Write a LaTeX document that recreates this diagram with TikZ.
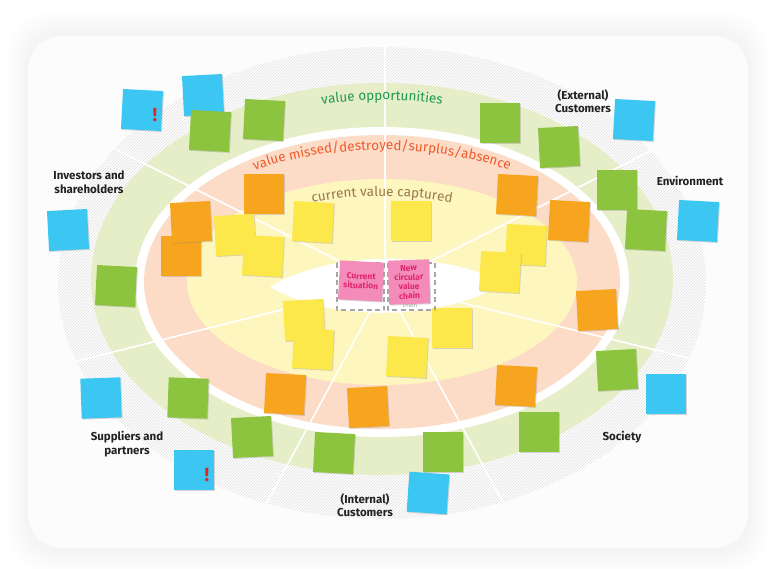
\documentclass[tikz,border=0pt]{standalone}
\usepackage{fontspec}
\setmainfont{Fira Sans}
\usetikzlibrary{patterns,shadows,decorations.text}
\definecolor{notegreen}{HTML}{8CC43F}
\definecolor{noteblue}{HTML}{3CC6F2}
\definecolor{noteorange}{HTML}{F7A51E}
\definecolor{noteyellow}{HTML}{FDE84B}
\definecolor{notepink}{HTML}{F38CBA}
\definecolor{pinktext}{HTML}{E0266E}
\definecolor{ringgreen}{HTML}{E6EEC8}
\definecolor{ringpeach}{HTML}{FCDCC7}
\definecolor{ringyellow}{HTML}{FDF6BE}
\definecolor{oppgreen}{HTML}{1E9A4E}
\definecolor{missred}{HTML}{F05A2B}
\definecolor{captbrown}{HTML}{9A774C}
\definecolor{bangred}{HTML}{E52421}
\definecolor{labelgray}{HTML}{222222}
\newcommand{\ringfont}{\fontsize{13.5}{13.5}\selectfont}
\begin{document}
\begin{tikzpicture}[x=1pt,y=-1pt,line join=round,line cap=round,
	note/.style={rectangle,minimum size=40pt,inner sep=0pt,drop shadow={shadow xshift=.9pt,shadow yshift=-.9pt,opacity=.3}},
	bnote/.style={note,fill=noteblue},
	gnote/.style={note,fill=notegreen},
	onote/.style={note,fill=noteorange},
	ynote/.style={note,fill=noteyellow},
	pnote/.style={note,fill=notepink,text=pinktext,font=\bfseries\fontsize{8.5}{9.3}\selectfont,align=center},
	bang/.style={text=bangred,font=\bfseries\fontsize{19}{19}\selectfont,inner sep=0pt},
	stake/.style={text=labelgray,font=\bfseries\fontsize{11.5}{13.5}\selectfont,align=center,inner sep=0pt},
	dashbox/.style={draw=black!35,line width=1.2pt,dash pattern=on 5pt off 3.5pt,line cap=butt},
	ringlabel/.style={decorate,decoration={text along path,text align=center,text color=#1}}]
	\def\cx{382} \def\cy{283}
	\useasboundingbox (0,0) rectangle (768,568);
	% card and its soft shadow
	\foreach \s in {0,2,...,22} \fill[black,opacity=.004,rounded corners=40pt] ({28-\s},{34-\s}) rectangle ({748+\s},{550+\s});
	\fill[black!1,rounded corners=34pt] (28,36) rectangle (748,548);
	% rings
	\fill[white] (\cx,\cy) ellipse[x radius=324,y radius=236];
	\fill[pattern=north east lines,pattern color=black!12] (\cx,\cy) ellipse[x radius=324,y radius=236];
	\fill[ringgreen] (\cx,279) ellipse[x radius=291,y radius=196];
	\fill[white] (\cx,282) ellipse[x radius=247,y radius=155];
	\fill[ringpeach] (\cx,282) ellipse[x radius=238,y radius=147];
	\fill[ringyellow] (\cx,282) ellipse[x radius=195,y radius=103];
	\begin{scope}
		\clip (\cx,\cy) ellipse[x radius=324,y radius=236];
		\foreach \dx/\dy in {0/-1,-2/-1,2/-1,-4/1,4.1/1,-.54/1,.54/1}
		\draw[white,line width=1.6pt] (385,284) -- ++(\dx*300,\dy*300);
	\end{scope}
	\fill[white] (270,287) .. controls (330,250) and (440,250) .. (505,283) .. controls (440,322) and (330,322) .. cycle;
	% ring titles
	\path[ringlabel=oppgreen,decoration={text={|\ringfont|value opportunities}}]
	(\cx,\cy) ++(235:272 and 183) arc[start angle=235,end angle=305,x radius=272,y radius=183];
	\path[ringlabel=missred,decoration={text={|\ringfont|value missed/destroyed/surplus/absence}}]
	(\cx,\cy) ++(205:240 and 133) arc[start angle=205,end angle=335,x radius=240,y radius=133];
	\path[ringlabel=captbrown,decoration={text={|\ringfont|current value captured}}]
	(\cx,\cy) ++(225:180 and 87) arc[start angle=225,end angle=315,x radius=180,y radius=87];
	% stakeholders
	\node[stake] (investors) at (89,182) {Investors and\\shareholders};
	\node[stake] (extcust) at (583,101) {(External)\\Customers};
	\node[stake] (environment) at (690,181) {Environment};
	\node[stake] (society) at (622,437) {Society};
	\node[stake] (suppliers) at (127,444) {Suppliers and\\partners};
	\node[stake] (intcust) at (365,505) {(Internal)\\Customers};
	% sticky notes
	\foreach \x/\y/\r [count=\i] in {142/110/-3,203/95/3,634/120/-3,698/221/-3,68/230/3,666/394/0,101/398/2,194/470/0,428/493/-4}
	\node[bnote,rotate=\r] (b\i) at (\x,\y) {};
	\node[bang] (bang1) at ([shift={(13,5)}]b1.center) {!};
	\node[bang] (bang2) at ([shift={(13,5)}]b8.center) {!};
	\foreach \x/\y/\r [count=\i] in {210/131/-3,264/120/-3,500/123/0,559/147/3,617/190/0,646/230/-3,116/286/-3,617/370/3,188/398/-2,252/437/3,334/453/-3,443/452/0,539/432/0}
	\node[gnote,rotate=\r] (g\i) at (\x,\y) {};
	\foreach \x/\y/\r [count=\i] in {264/194/0,181/256/0,191/222/3,517/195/-3,569/221/-3,597/310/3,285/394/-3,368/407/3,516/386/-3}
	\node[onote,rotate=\r] (o\i) at (\x,\y) {};
	\foreach \x/\y/\r [count=\i] in {313/222/-3,411/221/0,235/235/3,263/256/-3,526/245/-3,500/272/-3,304/320/3,313/349/-3,407/357/-3,452/328/0}
	\node[ynote,rotate=\r] (y\i) at (\x,\y) {};
	% centre
	\draw[dashbox] (337,263) rectangle (384,310);
	\draw[dashbox] (388,263) rectangle (435,310);
	\node[text=black!35,font=\fontsize{6}{6}\selectfont] (ghost) at (410,305) {chain};
	\node[pnote,minimum width=44pt,minimum height=39pt,rotate=-3] (current) at (361,281) {Current\\situation};
	\node[pnote,minimum width=41pt,minimum height=44pt,rotate=2] (newchain) at (409,282) {New\\circular\\value\\chain};
\end{tikzpicture}
\end{document}
